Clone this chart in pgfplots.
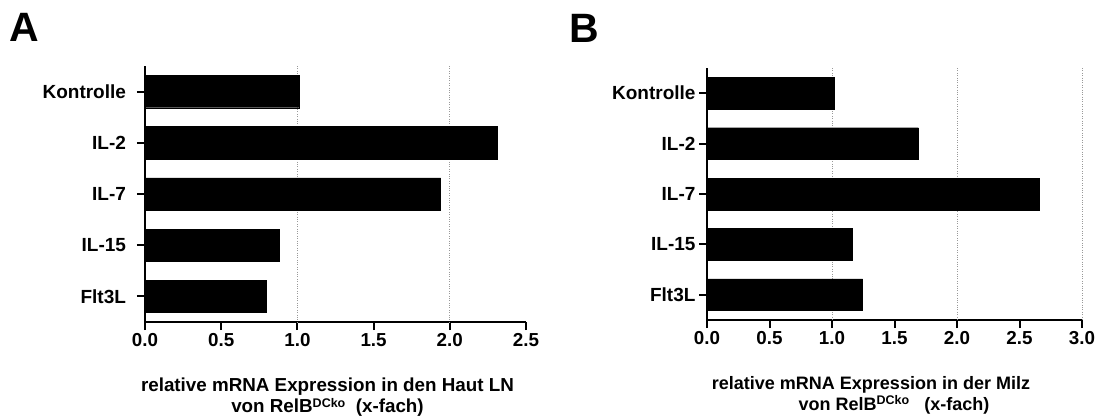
\documentclass[border=0pt]{standalone}
\usepackage{fontspec}
\setmainfont{Liberation Sans}
\usepackage{pgfplots}
\pgfplotsset{compat=1.18}
\newcommand{\supx}[1]{\raisebox{5.5bp}{\fontsize{12.5bp}{13bp}\selectfont #1}}
\begin{document}
\begin{tikzpicture}
\path[use as bounding box] (0bp,0bp) rectangle (1095bp,418bp);
\pgfplotsset{
  panel/.style={
    scale only axis,
    axis x line=bottom, axis y line=left,
    axis line style={-, line width=2.4bp, black},
    xbar, bar width=0.63,
    y dir=reverse,
    ymin=-0.5, ymax=4.5,
    ytick={0,1,2,3,4},
    yticklabels={Kontrolle,IL-2,IL-7,IL-15,Flt3L},
    tick align=outside,
    major tick length=8bp,
    tick style={line width=2bp, black},
    xmin=0,
    /pgf/number format/assume math mode=true,
    /pgf/number format/.cd, fixed, fixed zerofill, precision=1, /pgfplots/.cd,
    xticklabel style={font=\bfseries\fontsize{18.8bp}{22bp}\selectfont},
    yticklabel style={font=\bfseries\fontsize{19bp}{22bp}\selectfont},
    extra x tick style={grid=major, major tick length=0pt, tick style={draw=none}},
    extra x tick labels={},
    major grid style={dotted, line width=0.9bp, gray!80},
    xlabel style={align=center,
      at={(axis description cs:0.5,0)}, anchor=north, inner sep=0pt, yshift=-56bp},
  }
}
% Panel A
\begin{axis}[panel,
  at={(145bp,96bp)}, anchor=south west, width=381bp, height=256bp,
  xmax=2.5, xtick={0,0.5,1,1.5,2,2.5},
  extra x ticks={1,2},
  yticklabel style={xshift=-7.5bp},
  xlabel style={font=\bfseries\fontsize{18.8bp}{21bp}\selectfont, xshift=-8bp},
  xlabel={relative mRNA Expression in den Haut LN\\von RelB\supx{DCko}\ \ (x-fach)}]
\addplot[fill=black, draw=black] coordinates {(1.01,0) (2.31,1) (1.94,2) (0.88,3) (0.795,4)};
\end{axis}
% Panel B
\begin{axis}[panel,
  at={(707bp,98bp)}, anchor=south west, width=375bp, height=252bp,
  xmax=3, xtick={0,0.5,1,1.5,2,2.5,3},
  extra x ticks={1,2,3},
  xlabel style={font=\bfseries\fontsize{18bp}{21bp}\selectfont, xshift=-23.5bp},
  xlabel={relative mRNA Expression in der Milz\\\hspace*{46bp}von RelB\supx{DCko}\ \ \ (x-fach)}]
\addplot[fill=black, draw=black] coordinates {(1.015,0) (1.69,1) (2.655,2) (1.16,3) (1.245,4)};
\end{axis}
\node[anchor=north west, inner sep=0pt, font=\bfseries\fontsize{41bp}{44bp}\selectfont] at (9bp,405bp) {A};
\node[anchor=north west, inner sep=0pt, font=\bfseries\fontsize{41bp}{44bp}\selectfont] at (569bp,404bp) {B};
\end{tikzpicture}
\end{document}
